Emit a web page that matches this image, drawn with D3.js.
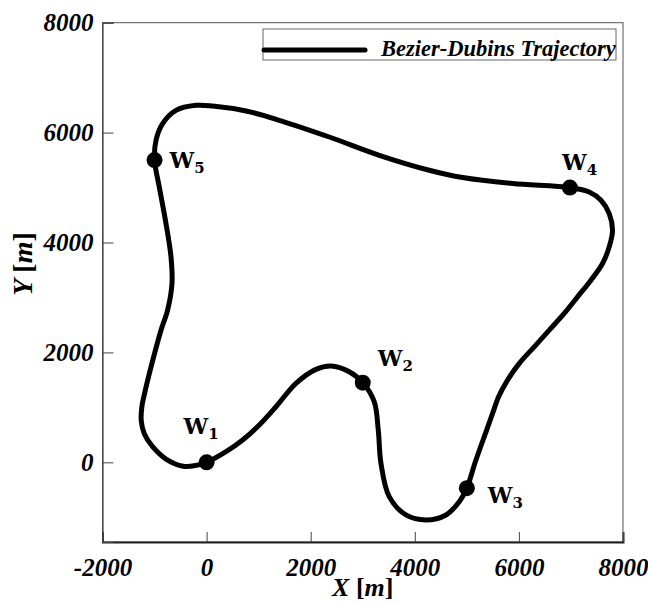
<!DOCTYPE html>
<html>
<head>
<meta charset="utf-8">
<script src="https://cdn.jsdelivr.net/npm/d3@7"></script>
<style>
  body { margin: 0; background: #fff; }
  .tick text { font-family: "Liberation Serif", serif; font-weight: bold; font-style: italic; font-size: 25px; fill: #000; }
  .wlabel { font-family: "DejaVu Serif", serif; font-weight: bold; fill: #000; }
</style>
</head>
<body>
<div id="chart"></div>
<script>
var width = 648, height = 604;
var margin = {top: 22.7, right: 25, bottom: 62, left: 102.5};

// trajectory samples (metres)
var trajX = [0, 373, 692, 1012, 1333, 1717, 2101, 2390, 2741, 3000, 3221, 3298, 3350, 3509, 3830, 4214, 4598, 4854, 5000,
  5160, 5380, 5495, 5610, 5782, 6007, 6295, 6583, 6871, 7127, 7384, 7607, 7735, 7799, 7735, 7576, 7351, 6980,
  5878, 4918, 4278, 3317, 2357, 1396, 757, 115, -204, -588, -845, -972, -1000,
  -909, -780, -684, -665, -749, -876, -1050, -1180, -1245, -1255, -1197, -1037, -780, -450, -200];
var trajY = [0, 193, 405, 678, 1011, 1436, 1691, 1751, 1647, 1450, 1102, 587, -18, -625, -958, -1049, -958, -716, -470,
  0, 587, 891, 1193, 1496, 1800, 2102, 2405, 2709, 3011, 3315, 3618, 3920, 4224, 4527, 4769, 4920, 5000,
  5073, 5182, 5315, 5587, 5920, 6224, 6393, 6484, 6496, 6405, 6164, 5860, 5500,
  5011, 4345, 3738, 3255, 2769, 2405, 1800, 1300, 1000, 750, 520, 284, 60, -70, -55];

var wpNames = ["1", "2", "3", "4", "5"];
var wpX = [0, 3000, 5000, 6980, -1000];
var wpY = [0, 1450, -470, 5000, 5500];

var xTicks = [-2000, 0, 2000, 4000, 6000, 8000];
var yTicks = [0, 2000, 4000, 6000, 8000];
var legendLabel = "Bezier-Dubins Trajectory";

// label placement (px from the waypoint)
var labelOff = [[-23, -28], [15, -17], [21, 15], [-8, -18], [15, 8]];

var x = d3.scaleLinear().domain([-2000, 8000]).range([margin.left, width - margin.right]);
var y = d3.scaleLinear().domain([-1450, 8000]).range([height - margin.bottom, margin.top]);

var svg = d3.select("#chart").append("svg")
    .attr("width", width)
    .attr("height", height);

// frame
svg.append("rect")
  .attr("x", x(-2000)).attr("y", y(8000))
  .attr("width", x(8000) - x(-2000)).attr("height", y(-1450) - y(8000))
  .attr("fill", "none").attr("stroke", "#555").attr("stroke-width", 1);

var fmt = function(d) { return String(d); };

var xAxis = svg.append("g")
  .attr("transform", "translate(0," + y(-1450) + ")")
  .call(d3.axisBottom(x).tickValues(xTicks).tickSize(-10).tickPadding(14).tickFormat(fmt));
xAxis.select(".domain").attr("stroke", "#222").attr("stroke-width", 2);
xAxis.selectAll(".tick line").attr("stroke", "#444");
xAxis.selectAll(".tick text").attr("dy", "0.78em");

var yAxis = svg.append("g")
  .attr("transform", "translate(" + x(-2000) + ",0)")
  .call(d3.axisLeft(y).tickValues(yTicks).tickSize(-11).tickPadding(9).tickFormat(fmt));
yAxis.select(".domain").attr("stroke", "#444").attr("stroke-width", 1.2);
yAxis.selectAll(".tick line").attr("stroke", "#444");

// axis titles
var xt = svg.append("text")
  .attr("x", (x(-2000) + x(8000)) / 2).attr("y", 596)
  .attr("text-anchor", "middle")
  .style("font-family", "Liberation Serif, serif").style("font-size", "26px").style("font-weight", "bold");
xt.append("tspan").style("font-style", "italic").text("X ");
xt.append("tspan").text("[");
xt.append("tspan").style("font-style", "italic").text("m");
xt.append("tspan").text("]");

var yt = svg.append("text")
  .attr("transform", "translate(32,264) rotate(-90)")
  .attr("text-anchor", "middle")
  .style("font-family", "Liberation Serif, serif").style("font-size", "28px").style("font-weight", "bold");
yt.append("tspan").style("font-style", "italic").text("Y ");
yt.append("tspan").text("[");
yt.append("tspan").style("font-style", "italic").text("m");
yt.append("tspan").text("]");

// trajectory
var pts = trajX.map(function(d, i) { return [d, trajY[i]]; });
var line = d3.line()
  .x(function(d) { return x(d[0]); })
  .y(function(d) { return y(d[1]); })
  .curve(d3.curveCatmullRomClosed.alpha(0.5));

svg.append("path")
  .datum(pts)
  .attr("d", line)
  .attr("fill", "none")
  .attr("stroke", "#000")
  .attr("stroke-width", 5)
  .attr("stroke-linejoin", "round");

// waypoints
var wp = svg.append("g").selectAll("g")
  .data(wpNames).enter()
  .append("g");

wp.append("circle")
  .attr("cx", function(d, i) { return x(wpX[i]); })
  .attr("cy", function(d, i) { return y(wpY[i]); })
  .attr("r", 8)
  .attr("fill", "#000");

var wl = wp.append("text")
  .attr("class", "wlabel")
  .attr("x", function(d, i) { return x(wpX[i]) + labelOff[i][0]; })
  .attr("y", function(d, i) { return y(wpY[i]) + labelOff[i][1]; })
  .style("font-size", "22px");
wl.append("tspan").text("W");
wl.append("tspan").attr("dy", 5).style("font-size", "15px").text(function(d) { return d; });

// legend
var lg = svg.append("g");
lg.append("rect")
  .attr("x", 263).attr("y", 29).attr("width", 353).attr("height", 31)
  .attr("fill", "#fff").attr("stroke", "#666").attr("stroke-width", 1);
lg.append("line")
  .attr("x1", 264).attr("x2", 365).attr("y1", 50).attr("y2", 50)
  .attr("stroke", "#000").attr("stroke-width", 5).attr("stroke-linecap", "round");
lg.append("text")
  .attr("x", 381).attr("y", 56)
  .style("font-family", "Liberation Serif, serif").style("font-size", "22.5px")
  .style("font-weight", "bold").style("font-style", "italic")
  .text(legendLabel);
</script>
</body>
</html>
